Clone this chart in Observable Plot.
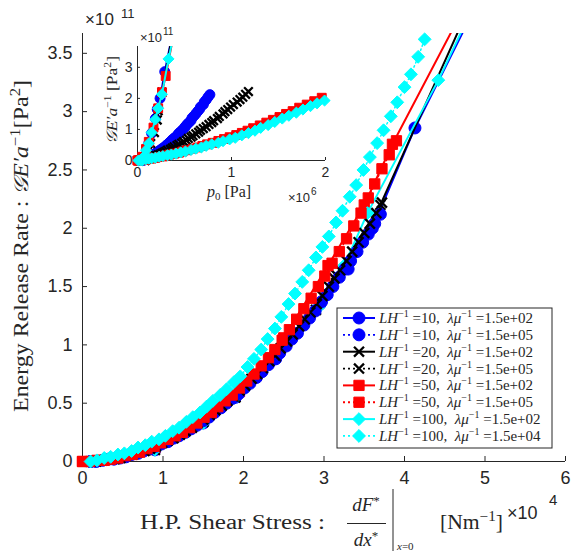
<!DOCTYPE html>
<html><head><meta charset="utf-8">
<script src="https://cdn.jsdelivr.net/npm/d3@7"></script>
<script src="https://cdn.jsdelivr.net/npm/@observablehq/plot@0.6"></script>
<style>
html,body{margin:0;padding:0;background:#fff;}
#wrap{position:relative;width:572px;height:554px;overflow:hidden;background:#fff;}
#wrap>svg{position:absolute;}
</style></head><body><div id="wrap"></div>
<script>
// ---------- series metadata ----------
const LH = ["10","10","20","20","50","50","100","100"];
const LAM = ["1.5e+02","1.5e+05","1.5e+02","1.5e+05","1.5e+02","1.5e+05","1.5e+02","1.5e+04"];
const COLORS = ["#0000ff","#0000ff","#000000","#000000","#ff0000","#ff0000","#00ffff","#00ffff"];
const SYMBOLS = ["circle","circle","times","times","square","square","diamond2","diamond2"];
const DOTTED = [false,true,false,true,false,true,false,true];

// ---------- tick values ----------
const xTicks = [0,1,2,3,4,5,6];
const yTicks = [0,0.5,1,1.5,2,2.5,3,3.5];
const insetXTicks = [0,1,2];
const insetYTicks = [0,1,2,3];

// ---------- data: shear (x1e4 N/m), p0 (x1e6 Pa), G (x1e11 Pa^2) ----------
// LH=10, lambda/mu=1.5e2
const shear_10_a = [0.10,0.90,1.50,1.90,2.40,2.95,3.30,3.60,4.13,5.10];
const g_10_a     = [0.00,0.10,0.33,0.55,0.88,1.35,1.65,2.00,2.86,4.20];
const p0_10_a    = [0.06,0.07,0.10,0.12,0.15,0.19,0.21,0.24,0.29,0.38];
// LH=10, lambda/mu=1.5e5
const shear_10_b = [0.10,0.17,0.25,0.32,0.39,0.47,0.54,0.61,0.69,0.76,0.84,0.91,0.98,1.06,1.13,1.20,1.28,1.35,1.42,1.50,1.57,1.64,1.72,1.79,1.86,1.94,2.01,2.08,2.16,2.23,2.31,2.38,2.45,2.53,2.60,2.67,2.75,2.82,2.89,2.97,3.04,3.11,3.19,3.26,3.33,3.41,3.48,3.55,3.63,3.70];
const g_10_b     = [0.00,0.00,0.01,0.02,0.02,0.03,0.04,0.06,0.07,0.09,0.11,0.13,0.15,0.17,0.20,0.22,0.25,0.28,0.31,0.35,0.38,0.42,0.46,0.50,0.54,0.58,0.63,0.67,0.72,0.77,0.83,0.88,0.93,0.99,1.05,1.10,1.17,1.23,1.29,1.37,1.43,1.50,1.58,1.65,1.72,1.80,1.88,1.95,2.04,2.12];
const p0_10_b    = [0.01,0.02,0.03,0.04,0.05,0.06,0.07,0.08,0.09,0.11,0.12,0.13,0.15,0.16,0.17,0.19,0.20,0.22,0.23,0.25,0.26,0.28,0.30,0.31,0.33,0.34,0.36,0.37,0.39,0.41,0.43,0.44,0.46,0.48,0.50,0.51,0.53,0.55,0.57,0.58,0.60,0.62,0.64,0.66,0.67,0.70,0.71,0.73,0.75,0.77];
// LH=20, lambda/mu=1.5e2
const shear_20_a = [0.10,0.90,1.50,1.90,2.40,2.90,3.15,3.70,5.00];
const g_20_a     = [0.00,0.10,0.34,0.55,0.90,1.30,1.60,2.20,4.20];
const p0_20_a    = [0.08,0.09,0.12,0.14,0.18,0.21,0.22,0.26,0.38];
// LH=20, lambda/mu=1.5e5
const shear_20_b = [0.10,0.17,0.25,0.32,0.40,0.47,0.54,0.62,0.69,0.77,0.84,0.91,0.99,1.06,1.13,1.21,1.28,1.36,1.43,1.50,1.58,1.65,1.73,1.80,1.87,1.95,2.02,2.10,2.17,2.24,2.32,2.39,2.46,2.54,2.61,2.69,2.76,2.83,2.91,2.98,3.06,3.13,3.20,3.28,3.35,3.43,3.50,3.57,3.65,3.72];
const g_20_b     = [0.00,0.00,0.01,0.02,0.02,0.03,0.05,0.06,0.08,0.09,0.11,0.13,0.16,0.18,0.20,0.23,0.26,0.29,0.33,0.36,0.40,0.44,0.48,0.52,0.56,0.61,0.65,0.71,0.75,0.80,0.86,0.91,0.97,1.03,1.09,1.16,1.22,1.28,1.35,1.42,1.50,1.57,1.64,1.72,1.80,1.88,1.96,2.04,2.13,2.22];
const p0_20_b    = [0.01,0.02,0.03,0.04,0.06,0.07,0.09,0.10,0.12,0.14,0.16,0.18,0.20,0.22,0.24,0.26,0.28,0.30,0.32,0.35,0.37,0.39,0.42,0.44,0.47,0.49,0.52,0.54,0.57,0.59,0.62,0.65,0.67,0.70,0.73,0.76,0.79,0.81,0.85,0.87,0.91,0.93,0.96,0.99,1.02,1.06,1.09,1.12,1.15,1.18];
// LH=50, lambda/mu=1.5e2
const shear_50_a = [0.00,0.90,1.50,1.95,2.50,3.05,3.50,3.85,5.05];
const g_50_a     = [0.00,0.12,0.37,0.60,1.06,1.68,2.20,2.72,4.30];
const p0_50_a    = [0.00,0.05,0.09,0.12,0.17,0.22,0.26,0.30,0.40];
// LH=50, lambda/mu=1.5e5
const shear_50_b = [0.00,0.09,0.18,0.27,0.35,0.44,0.53,0.62,0.71,0.80,0.89,0.97,1.06,1.15,1.24,1.33,1.42,1.51,1.60,1.68,1.77,1.86,1.95,2.04,2.13,2.22,2.31,2.39,2.48,2.57,2.66,2.75,2.84,2.93,3.01,3.10,3.19,3.28,3.37,3.46,3.55,3.63,3.72,3.81,3.90];
const g_50_b     = [0.00,0.00,0.01,0.01,0.02,0.03,0.05,0.06,0.08,0.11,0.13,0.16,0.19,0.22,0.25,0.29,0.33,0.38,0.42,0.47,0.52,0.57,0.63,0.69,0.75,0.82,0.89,0.96,1.04,1.13,1.22,1.31,1.40,1.50,1.59,1.70,1.80,1.91,2.02,2.13,2.26,2.38,2.51,2.63,2.75];
const p0_50_b    = [0.00,0.01,0.02,0.04,0.07,0.09,0.12,0.15,0.19,0.23,0.27,0.30,0.34,0.39,0.44,0.48,0.53,0.59,0.64,0.69,0.74,0.80,0.86,0.92,0.98,1.05,1.11,1.17,1.23,1.30,1.37,1.44,1.51,1.58,1.65,1.72,1.80,1.88,1.96,2.03,2.11,2.19,2.27,2.35,2.43];
// LH=100, lambda/mu=1.5e2
const shear_100_a = [0.10,0.90,1.50,1.90,2.40,2.93,3.25,3.54,4.42,5.20];
const g_100_a     = [0.00,0.10,0.33,0.55,0.90,1.32,1.68,2.13,3.27,4.40];
const p0_100_a    = [0.05,0.06,0.09,0.12,0.15,0.19,0.22,0.26,0.33,0.41];
// LH=100, lambda/mu=1.5e4
const shear_100_b = [0.10,0.18,0.27,0.35,0.44,0.52,0.61,0.69,0.78,0.86,0.95,1.03,1.12,1.20,1.29,1.37,1.46,1.54,1.62,1.71,1.79,1.88,1.96,2.05,2.13,2.22,2.30,2.39,2.47,2.56,2.64,2.73,2.81,2.90,2.98,3.06,3.15,3.23,3.32,3.40,3.49,3.57,3.66,3.74,3.83,3.91,4.00,4.08,4.17,4.25];
const g_100_b     = [0.00,0.01,0.03,0.04,0.06,0.07,0.09,0.12,0.14,0.17,0.19,0.22,0.26,0.29,0.34,0.38,0.42,0.47,0.52,0.57,0.62,0.68,0.73,0.81,0.88,0.96,1.05,1.14,1.24,1.35,1.44,1.54,1.64,1.75,1.84,1.93,2.05,2.15,2.27,2.37,2.50,2.61,2.73,2.84,2.96,3.08,3.21,3.32,3.47,3.62];
const p0_100_b    = [0.01,0.03,0.06,0.09,0.12,0.15,0.19,0.23,0.27,0.32,0.36,0.41,0.46,0.51,0.57,0.62,0.68,0.73,0.79,0.86,0.91,0.98,1.04,1.11,1.18,1.25,1.31,1.39,1.46,1.54,1.61,1.69,1.76,1.84,1.91,1.99,2.07,2.15,2.24,2.32,2.41,2.49,2.58,2.66,2.75,2.84,2.93,3.02,3.12,3.20];

const SHEAR = [shear_10_a, shear_10_b, shear_20_a, shear_20_b, shear_50_a, shear_50_b, shear_100_a, shear_100_b];
const GVAL  = [g_10_a, g_10_b, g_20_a, g_20_b, g_50_a, g_50_b, g_100_a, g_100_b];
const P0    = [p0_10_a, p0_10_b, p0_20_a, p0_20_b, p0_50_a, p0_50_b, p0_100_a, p0_100_b];

// ---------- layout / style ----------
const AX = "#262626";
const SANS = "Liberation Sans, Arial, Helvetica, sans-serif";
const SERIF = "Liberation Serif, Times New Roman, serif";
const Y_MAX = 3.67;
const W = 572, H = 554, mL = 82, mR = 7, mT = 33, mB = 93;
const fw = W - mL - mR, fh = H - mT - mB;
const R_MAIN = {circle: 6, times: 4.6, square: 5.8, diamond2: 5.8};
const R_INSET = {circle: 5, times: 4, square: 5, diamond2: 5};

function rows(i) {
  return SHEAR[i].map((s, j) => ({s, p: P0[i][j], g: GVAL[i][j]}));
}
function seriesMarks(i, xf, keep, R) {
  const all = rows(i);
  const lineOpts = {x: xf, y: "g", stroke: COLORS[i], strokeWidth: DOTTED[i] ? 1.5 : 2, clip: true};
  if (DOTTED[i]) lineOpts.strokeDasharray = "1.5,3";
  const sym = SYMBOLS[i];
  const dotOpts = {x: xf, y: "g", symbol: sym, r: R[sym]};
  if (sym === "times") { dotOpts.stroke = COLORS[i]; dotOpts.strokeWidth = 2.3; dotOpts.fill = "none"; }
  else { dotOpts.fill = COLORS[i]; dotOpts.stroke = COLORS[i]; dotOpts.strokeWidth = 1; }
  return [Plot.line(all, lineOpts), Plot.dot(all.filter(keep), dotOpts)];
}

// ---------- main chart ----------
const mainOrder = [0,2,4,6,1,3,5,7];
const main = Plot.plot({
  width: W, height: H,
  marginLeft: mL, marginRight: mR, marginTop: mT, marginBottom: mB,
  style: {background: "none", fontFamily: SANS, fontSize: "18px", color: AX, overflow: "visible"},
  x: {domain: [0, 6]},
  y: {domain: [0, Y_MAX]},
  marks: [
    Plot.ruleX(xTicks, {stroke: AX, insetTop: fh - 5}),
    Plot.ruleY(yTicks, {stroke: AX, insetRight: fw - 5}),
    Plot.ruleX([0], {stroke: AX}),
    Plot.ruleY([0], {stroke: AX}),
    Plot.axisX({ticks: xTicks, tickSize: 0, tickPadding: 10, fontSize: 18, label: null, tickFormat: d => String(d)}),
    Plot.axisY({ticks: yTicks, tickSize: 0, tickPadding: 10, fontSize: 18, label: null, tickFormat: d => String(d)}),
    ...mainOrder.flatMap(i => seriesMarks(i, "s", d => d.g <= Y_MAX, R_MAIN))
  ]
});
main.style.left = "0px"; main.style.top = "0px";

// ---------- inset chart ----------
const IX = 95, IY = 25, IW = 240, IH = 185;
const imL = 42, imR = 10, imT = 21, imB = 50;
const ifw = IW - imL - imR, ifh = IH - imT - imB;
const inset = Plot.plot({
  width: IW, height: IH,
  marginLeft: imL, marginRight: imR, marginTop: imT, marginBottom: imB,
  style: {background: "none", fontFamily: SANS, fontSize: "14px", color: AX, overflow: "visible"},
  x: {domain: [0, 2]},
  y: {domain: [0, Y_MAX]},
  marks: [
    Plot.ruleX(insetXTicks, {stroke: AX, insetTop: ifh - 3}),
    Plot.ruleY(insetYTicks, {stroke: AX, insetRight: ifw - 3}),
    Plot.ruleX([0], {stroke: AX}),
    Plot.ruleY([0], {stroke: AX}),
    Plot.axisX({ticks: insetXTicks, tickSize: 0, tickPadding: 7, fontSize: 14, label: null, tickFormat: d => String(d)}),
    Plot.axisY({ticks: insetYTicks, tickSize: 0, tickPadding: 5, fontSize: 14, label: null, tickFormat: d => String(d)}),
    ...[0,1,2,3,4,5,6,7].flatMap(i => seriesMarks(i, "p", d => d.g <= Y_MAX && d.p <= 2, R_INSET))
  ]
});
inset.style.left = IX + "px"; inset.style.top = IY + "px";

const wrap = document.getElementById("wrap");
wrap.appendChild(main);
wrap.appendChild(inset);

// ---------- text helpers ----------
const svg = d3.select(main);
function txt(parent, x, y, family, size, anchor) {
  return parent.append("text").attr("x", x).attr("y", y).attr("font-family", family)
    .attr("font-size", size).attr("fill", AX).attr("text-anchor", anchor || "start")
    .attr("font-style", "normal").attr("font-weight", "normal");
}
function span(t, s, opts) {
  const e = t.append("tspan").text(s);
  if (opts) for (const k in opts) e.attr(k, opts[k]);
  return e;
}

// y label
{
  const t = svg.append("text").attr("transform", "translate(28,246) rotate(-90)")
    .attr("text-anchor", "middle").attr("font-family", SERIF).attr("font-size", 20).attr("fill", AX)
    .attr("textLength", 332).attr("lengthAdjust", "spacingAndGlyphs");
  span(t, "Energy Release Rate : ");
  span(t, "\u{1D4A2}E\u2032a", {"font-style": "italic"});
  span(t, "\u22121", {dy: -8, "font-size": 14});
  span(t, "[Pa", {dy: 8});
  span(t, "2", {dy: -8, "font-size": 14});
  span(t, "]", {dy: 8});
}
// x label
{
  txt(svg, 140, 529, SERIF, 20).attr("textLength", 185).attr("lengthAdjust", "spacingAndGlyphs").text("H.P. Shear Stress :");
  const n = txt(svg, 366, 511, SERIF, 19, "middle");
  span(n, "dF", {"font-style": "italic"}); span(n, "*", {dy: -6, "font-size": 13});
  svg.append("line").attr("x1", 347).attr("x2", 386).attr("y1", 523.5).attr("y2", 523.5).attr("stroke", AX).attr("stroke-width", 1);
  const dn = txt(svg, 366, 546, SERIF, 19, "middle");
  span(dn, "dx", {"font-style": "italic"}); span(dn, "*", {dy: -6, "font-size": 13});
  svg.append("line").attr("x1", 393).attr("x2", 393).attr("y1", 489).attr("y2", 551).attr("stroke", AX).attr("stroke-width", 1);
  const sb = txt(svg, 397, 550, SERIF, 11);
  span(sb, "x", {"font-style": "italic"}); span(sb, "=0");
  const u = txt(svg, 440, 529, SERIF, 20).attr("textLength", 63).attr("lengthAdjust", "spacingAndGlyphs");
  span(u, "[Nm"); span(u, "\u22121", {dy: -8, "font-size": 14}); span(u, "]", {dy: 8});
  txt(svg, 507, 519, SANS, 18).text("\u00d710");
  txt(svg, 549, 505, SANS, 15).text("4");
}
// y multiplier
txt(svg, 85, 25, SANS, 17).text("\u00d710");
txt(svg, 121, 18, SANS, 13).text("11");

// inset labels (main coordinates)
txt(svg, 140, 42, SANS, 13).text("\u00d710");
txt(svg, 163, 35, SANS, 10).text("11");
txt(svg, 288, 202, SANS, 13).text("\u00d710");
txt(svg, 311, 195, SANS, 10).text("6");
{
  const t = txt(svg, 207, 197, SERIF, 16);
  span(t, "p", {"font-style": "italic"}); span(t, "0", {dy: 3, "font-size": 11}); span(t, "\u00a0[Pa]", {dy: -3});
  const r = svg.append("text").attr("transform", "translate(117,100) rotate(-90)")
    .attr("text-anchor", "middle").attr("font-family", SERIF).attr("font-size", 15).attr("fill", AX)
    .attr("textLength", 88).attr("lengthAdjust", "spacingAndGlyphs");
  span(r, "\u{1D4A2}E\u2032a", {"font-style": "italic"});
  span(r, "\u22121", {dy: -6, "font-size": 10});
  span(r, "\u00a0[Pa", {dy: 6});
  span(r, "2", {dy: -6, "font-size": 10});
  span(r, "]", {dy: 6});
}

// ---------- legend ----------
{
  const lg = d3.select(main).append("g");
  lg.append("rect").attr("x", 337).attr("y", 308).attr("width", 215).attr("height", 140)
    .attr("fill", "#fff").attr("stroke", AX).attr("stroke-width", 1);
  const SYM = {circle: d3.symbolCircle, times: d3.symbolTimes, square: d3.symbolSquare, diamond2: d3.symbolDiamond2};
  for (let i = 0; i < 8; i++) {
    const cy = 318 + i * 16.85;
    const ln = lg.append("line").attr("x1", 343).attr("x2", 375).attr("y1", cy).attr("y2", cy)
      .attr("stroke", COLORS[i]).attr("stroke-width", DOTTED[i] ? 1.8 : 2);
    if (DOTTED[i]) ln.attr("stroke-dasharray", "2,3");
    const sym = SYMBOLS[i], r = R_MAIN[sym];
    const p = lg.append("path").attr("d", d3.symbol().type(SYM[sym]).size(Math.PI * r * r)())
      .attr("transform", `translate(359,${cy})`);
    if (sym === "times") p.attr("fill", "none").attr("stroke", COLORS[i]).attr("stroke-width", 2.3);
    else p.attr("fill", COLORS[i]).attr("stroke", COLORS[i]);
    const t = txt(lg, 379, cy + 5, SERIF, 15);
    span(t, "LH", {"font-style": "italic"});
    span(t, "\u22121", {dy: -6, "font-size": 10});
    span(t, "\u00a0=" + LH[i] + ",\u00a0\u00a0", {dy: 6});
    span(t, "\u03bb\u03bc", {"font-style": "italic"});
    span(t, "\u22121", {dy: -6, "font-size": 10});
    span(t, "\u00a0=" + LAM[i], {dy: 6});
  }
}
</script></body></html>
